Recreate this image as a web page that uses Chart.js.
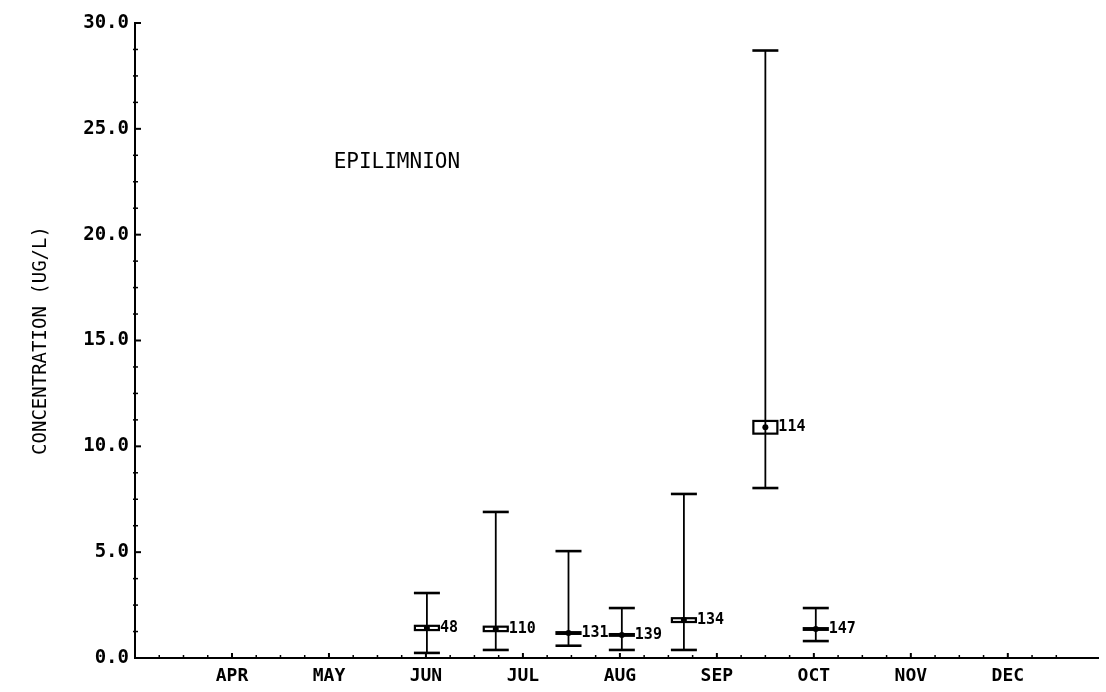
<!DOCTYPE html>
<html>
<head>
<meta charset="utf-8">
<script src="https://cdn.jsdelivr.net/npm/chart.js@4/dist/chart.umd.min.js"></script>
<style>
html, body { margin: 0; padding: 0; background: #fff; }
#wrap { width: 1106px; height: 692px; }
</style>
</head>
<body>
<div id="wrap"><canvas id="chart"></canvas></div>
<script>
// month axis: 0 = MAR, 1 = APR ... 9 = DEC
const monthLabels = ['', 'APR', 'MAY', 'JUN', 'JUL', 'AUG', 'SEP', 'OCT', 'NOV', 'DEC'];
const stationIds = ['48', '110', '131', '139', '134', '114', '147'];
const sampleMonth = [3.01, 3.72, 4.47, 5.02, 5.66, 6.50, 7.02];
const meanValues = [1.42, 1.37, 1.18, 1.09, 1.79, 10.9, 1.37];
const boxLow = [1.32, 1.27, 1.14, 1.05, 1.70, 10.6, 1.33];
const boxHigh = [1.52, 1.48, 1.22, 1.13, 1.88, 11.2, 1.41];
const minValues = [0.24, 0.38, 0.58, 0.38, 0.38, 8.03, 0.80];
const maxValues = [3.07, 6.90, 5.05, 2.36, 7.75, 28.7, 2.36];
const panelLabel = { text: 'EPILIMNION', month: 2.70, value: 23.4 };

const MONO = '"DejaVu Sans Mono", "Liberation Mono", monospace';

function line(ctx, x1, y1, x2, y2) {
    ctx.beginPath();
    ctx.moveTo(x1, y1);
    ctx.lineTo(x2, y2);
    ctx.stroke();
}

// tick marks pointing into the plot, like the plotter output
const inwardTicks = {
    id: 'inwardTicks',
    afterDraw(chart) {
        const { ctx, chartArea, scales: { x, y } } = chart;
        ctx.save();
        ctx.strokeStyle = '#000';
        y.ticks.forEach(t => {
            const py = y.getPixelForValue(t.value);
            const major = t.value % 5 === 0;
            ctx.lineWidth = major ? 2 : 1.5;
            line(ctx, chartArea.left - (major ? 0 : 2), py, chartArea.left + (major ? 6 : 3), py);
        });
        x.ticks.forEach(t => {
            if (t.value > 9.8) return;
            const px = x.getPixelForValue(t.value);
            const major = Number.isInteger(t.value);
            ctx.lineWidth = major ? 2 : 1.5;
            line(ctx, px, chartArea.bottom, px, chartArea.bottom - (major ? 5 : 3));
        });
        ctx.restore();
    }
};

// whiskers (min/max), box around the mean, station number
const errorBars = {
    id: 'errorBars',
    afterDatasetsDraw(chart) {
        const { ctx, scales: { x, y } } = chart;
        ctx.save();
        ctx.strokeStyle = '#000';
        ctx.fillStyle = '#000';
        sampleMonth.forEach((m, i) => {
            const px = x.getPixelForValue(m);
            const pMin = y.getPixelForValue(minValues[i]);
            const pMax = y.getPixelForValue(maxValues[i]);
            const pLo = y.getPixelForValue(boxLow[i]);
            const pHi = y.getPixelForValue(boxHigh[i]);
            const pMean = y.getPixelForValue(meanValues[i]);

            ctx.lineWidth = 1.8;
            line(ctx, px, pMin, px, pMax);

            ctx.lineWidth = 2.6;
            line(ctx, px - 13, pMax, px + 13, pMax);
            line(ctx, px - 13, pMin, px + 13, pMin);

            ctx.lineWidth = 2.2;
            ctx.strokeRect(px - 12, pHi, 24, Math.max(pLo - pHi, 1));

            ctx.font = 'bold 15px ' + MONO;
            ctx.textAlign = 'left';
            ctx.textBaseline = 'middle';
            ctx.fillText(stationIds[i], px + 13, pMean);
        });

        ctx.font = '21px ' + MONO;
        ctx.textAlign = 'center';
        ctx.textBaseline = 'middle';
        ctx.fillText(panelLabel.text, x.getPixelForValue(panelLabel.month), y.getPixelForValue(panelLabel.value));
        ctx.restore();
    }
};

const meanPoints = sampleMonth.map((m, i) => ({ x: m, y: meanValues[i] }));

new Chart(document.getElementById('chart'), {
    type: 'scatter',
    data: {
        datasets: [{
            label: 'Mean',
            data: meanPoints,
            pointStyle: 'circle',
            pointRadius: 3,
            backgroundColor: '#000',
            borderColor: '#000',
            borderWidth: 0
        }]
    },
    options: {
        responsive: true,
        maintainAspectRatio: false,
        animation: false,
        devicePixelRatio: 1,
        layout: { padding: { top: 23, right: 6, left: 0, bottom: 0 } },
        plugins: {
            legend: { display: false },
            tooltip: { enabled: false }
        },
        scales: {
            x: {
                type: 'linear',
                min: 0,
                max: 9.93,
                afterFit: scale => { scale.height = 34; },
                grid: { display: true, drawOnChartArea: false, drawTicks: false },
                border: { display: true, color: '#000', width: 2 },
                ticks: {
                    stepSize: 0.25,
                    autoSkip: false,
                    maxRotation: 0,
                    padding: 8,
                    color: '#000',
                    font: { family: MONO, size: 18, weight: 'bold' },
                    callback: v => Number.isInteger(v) ? monthLabels[v] || '' : ''
                }
            },
            y: {
                min: 0,
                max: 30,
                afterFit: scale => { scale.width = 135; },
                grid: { display: true, drawOnChartArea: false, drawTicks: false },
                border: { display: true, color: '#000', width: 2 },
                ticks: {
                    stepSize: 1.25,
                    autoSkip: false,
                    padding: 6,
                    color: '#000',
                    font: { family: MONO, size: 19, weight: 'bold' },
                    callback: v => v % 5 === 0 ? v.toFixed(1) : ''
                },
                title: {
                    display: true,
                    text: 'CONCENTRATION (UG/L)',
                    color: '#000',
                    font: { family: MONO, size: 19 },
                    padding: { top: 30, bottom: 0 }
                }
            }
        }
    },
    plugins: [inwardTicks, errorBars]
});
</script>
</body>
</html>
